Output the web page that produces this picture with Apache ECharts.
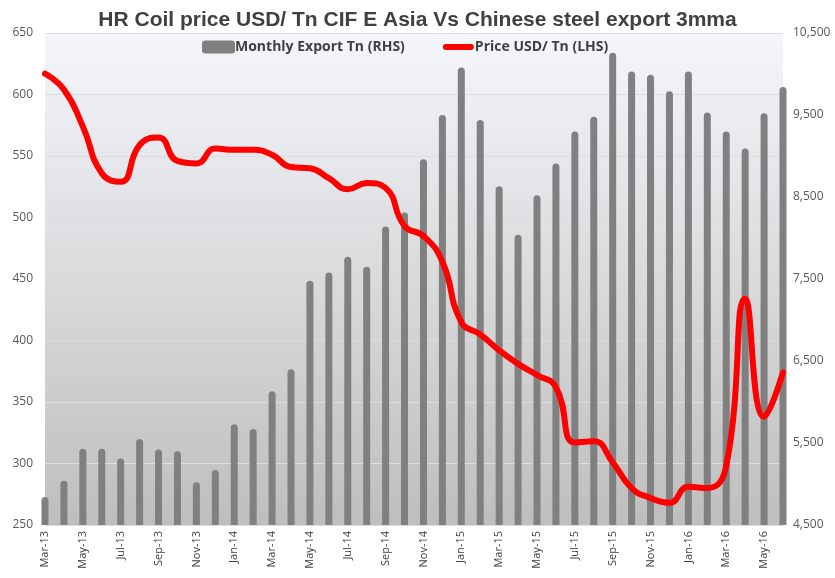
<!DOCTYPE html>
<html lang="en">
<head>
    <meta charset="UTF-8">
    <title>HR Coil price vs Chinese steel export</title>
    <style>
        body{
            margin: 0;
            background: #ffffff;
        }
    </style>
</head>
<body>
<div id="myChart" style="width: 835px;height: 578px;"></div>
<script src="https://cdn.jsdelivr.net/npm/echarts@6/dist/echarts.min.js"></script>
<script>
    // months Mar-13 .. Jun-16
    let months = [
        "Mar-13", "Apr-13", "May-13", "Jun-13", "Jul-13", "Aug-13", "Sep-13", "Oct-13", "Nov-13", "Dec-13",
        "Jan-14", "Feb-14", "Mar-14", "Apr-14", "May-14", "Jun-14", "Jul-14", "Aug-14", "Sep-14", "Oct-14",
        "Nov-14", "Dec-14", "Jan-15", "Feb-15", "Mar-15", "Apr-15", "May-15", "Jun-15", "Jul-15", "Aug-15",
        "Sep-15", "Oct-15", "Nov-15", "Dec-15", "Jan-16", "Feb-16", "Mar-16", "Apr-16", "May-16", "Jun-16"
    ];
    // monthly export, right axis
    let exportTn = [
        4840, 5040, 5430, 5430, 5310, 5550, 5420, 5400, 5020, 5170,
        5730, 5670, 6130, 6400, 7480, 7580, 7770, 7650, 8140, 8310,
        8960, 9500, 10080, 9440, 8630, 8040, 8520, 8910, 9300, 9480,
        10260, 10030, 9990, 9790, 10030, 9530, 9300, 9090, 9520, 9840
    ];
    // HR coil price, left axis
    let priceUsd = [
        617, 604, 574, 536, 529, 559, 565, 546, 544, 556,
        555, 555, 551, 541, 540, 532, 523, 528, 524, 493,
        485, 464, 415, 405, 392, 381, 372, 362, 317, 318,
        301, 280, 272, 268, 281, 280, 298, 434, 338, 374
    ];
    let leftTicks = { min: 250, max: 650, step: 50 };
    let rightTicks = { min: 4500, max: 10500, step: 1000 };

    var myChart = echarts.init(document.querySelector("#myChart"));

    var labelFont = "'Open Sans', sans-serif";
    option = {
        animation: false,
        title: {
            text: "HR Coil price USD/ Tn CIF E Asia Vs Chinese steel export 3mma",
            left: "center",
            top: 5,
            textStyle: {
                fontFamily: "'Liberation Sans', sans-serif",
                fontSize: 21,
                fontWeight: "bold",
                color: "#404040"
            }
        },
        legend: {
            top: 35,
            left: 197,
            itemGap: 37,
            itemWidth: 33,
            itemHeight: 13,
            textStyle: {
                fontFamily: labelFont,
                fontSize: 14,
                fontWeight: "bold",
                color: "#404040",
                padding: [0, 0, 0, -5]
            },
            data: [
                { name: "Monthly Export Tn (RHS)", icon: "roundRect" },
                {
                    name: "Price USD/ Tn (LHS)",
                    // thin red bar centred in the icon box
                    icon: "path://M0,0M33,13M4,3.5h25a3,3 0 0 1 0,6h-25a3,3 0 0 1 0,-6z"
                }
            ]
        },
        grid: {
            left: 45,
            right: 52,
            top: 33,
            bottom: 53,
            show: true,
            borderWidth: 0,
            backgroundColor: new echarts.graphic.LinearGradient(0, 0, 0, 1, [
                { offset: 0, color: "#f4f6fa" },
                { offset: 1, color: "#bebebe" }
            ])
        },
        xAxis: {
            type: "category",
            data: months,
            boundaryGap: false,
            axisLine: { show: false },
            axisTick: { show: false },
            axisLabel: {
                interval: 1,
                rotate: 90,
                fontFamily: labelFont,
                fontSize: 11,
                color: "#404040",
                margin: 6
            }
        },
        yAxis: [
            {
                type: "value",
                min: leftTicks.min,
                max: leftTicks.max,
                interval: leftTicks.step,
                axisLine: { show: false },
                axisTick: { show: false },
                axisLabel: { fontFamily: labelFont, fontSize: 12, color: "#595959", margin: 12 },
                splitLine: { lineStyle: { color: "#dcdde0", width: 1 } }
            },
            {
                type: "value",
                min: rightTicks.min,
                max: rightTicks.max,
                interval: rightTicks.step,
                axisLine: { show: false },
                axisTick: { show: false },
                splitLine: { show: false },
                axisLabel: {
                    fontFamily: labelFont,
                    fontSize: 12,
                    color: "#595959",
                    margin: 10,
                    formatter: function (v) { return v.toLocaleString("en-US"); }
                }
            }
        ],
        series: [
            {
                name: "Monthly Export Tn (RHS)",
                type: "bar",
                yAxisIndex: 1,
                barWidth: 7,
                clip: true,
                itemStyle: {
                    color: "#808080",
                    borderRadius: [3.5, 3.5, 0, 0]
                },
                data: exportTn
            },
            {
                name: "Price USD/ Tn (LHS)",
                type: "line",
                yAxisIndex: 0,
                smooth: 0.5,
                symbol: "none",
                lineStyle: { color: "#ff0000", width: 6, cap: "round" },
                itemStyle: { color: "#ff0000" },
                data: priceUsd
            }
        ]
    };
    myChart.setOption(option);
</script>
</body>
</html>
